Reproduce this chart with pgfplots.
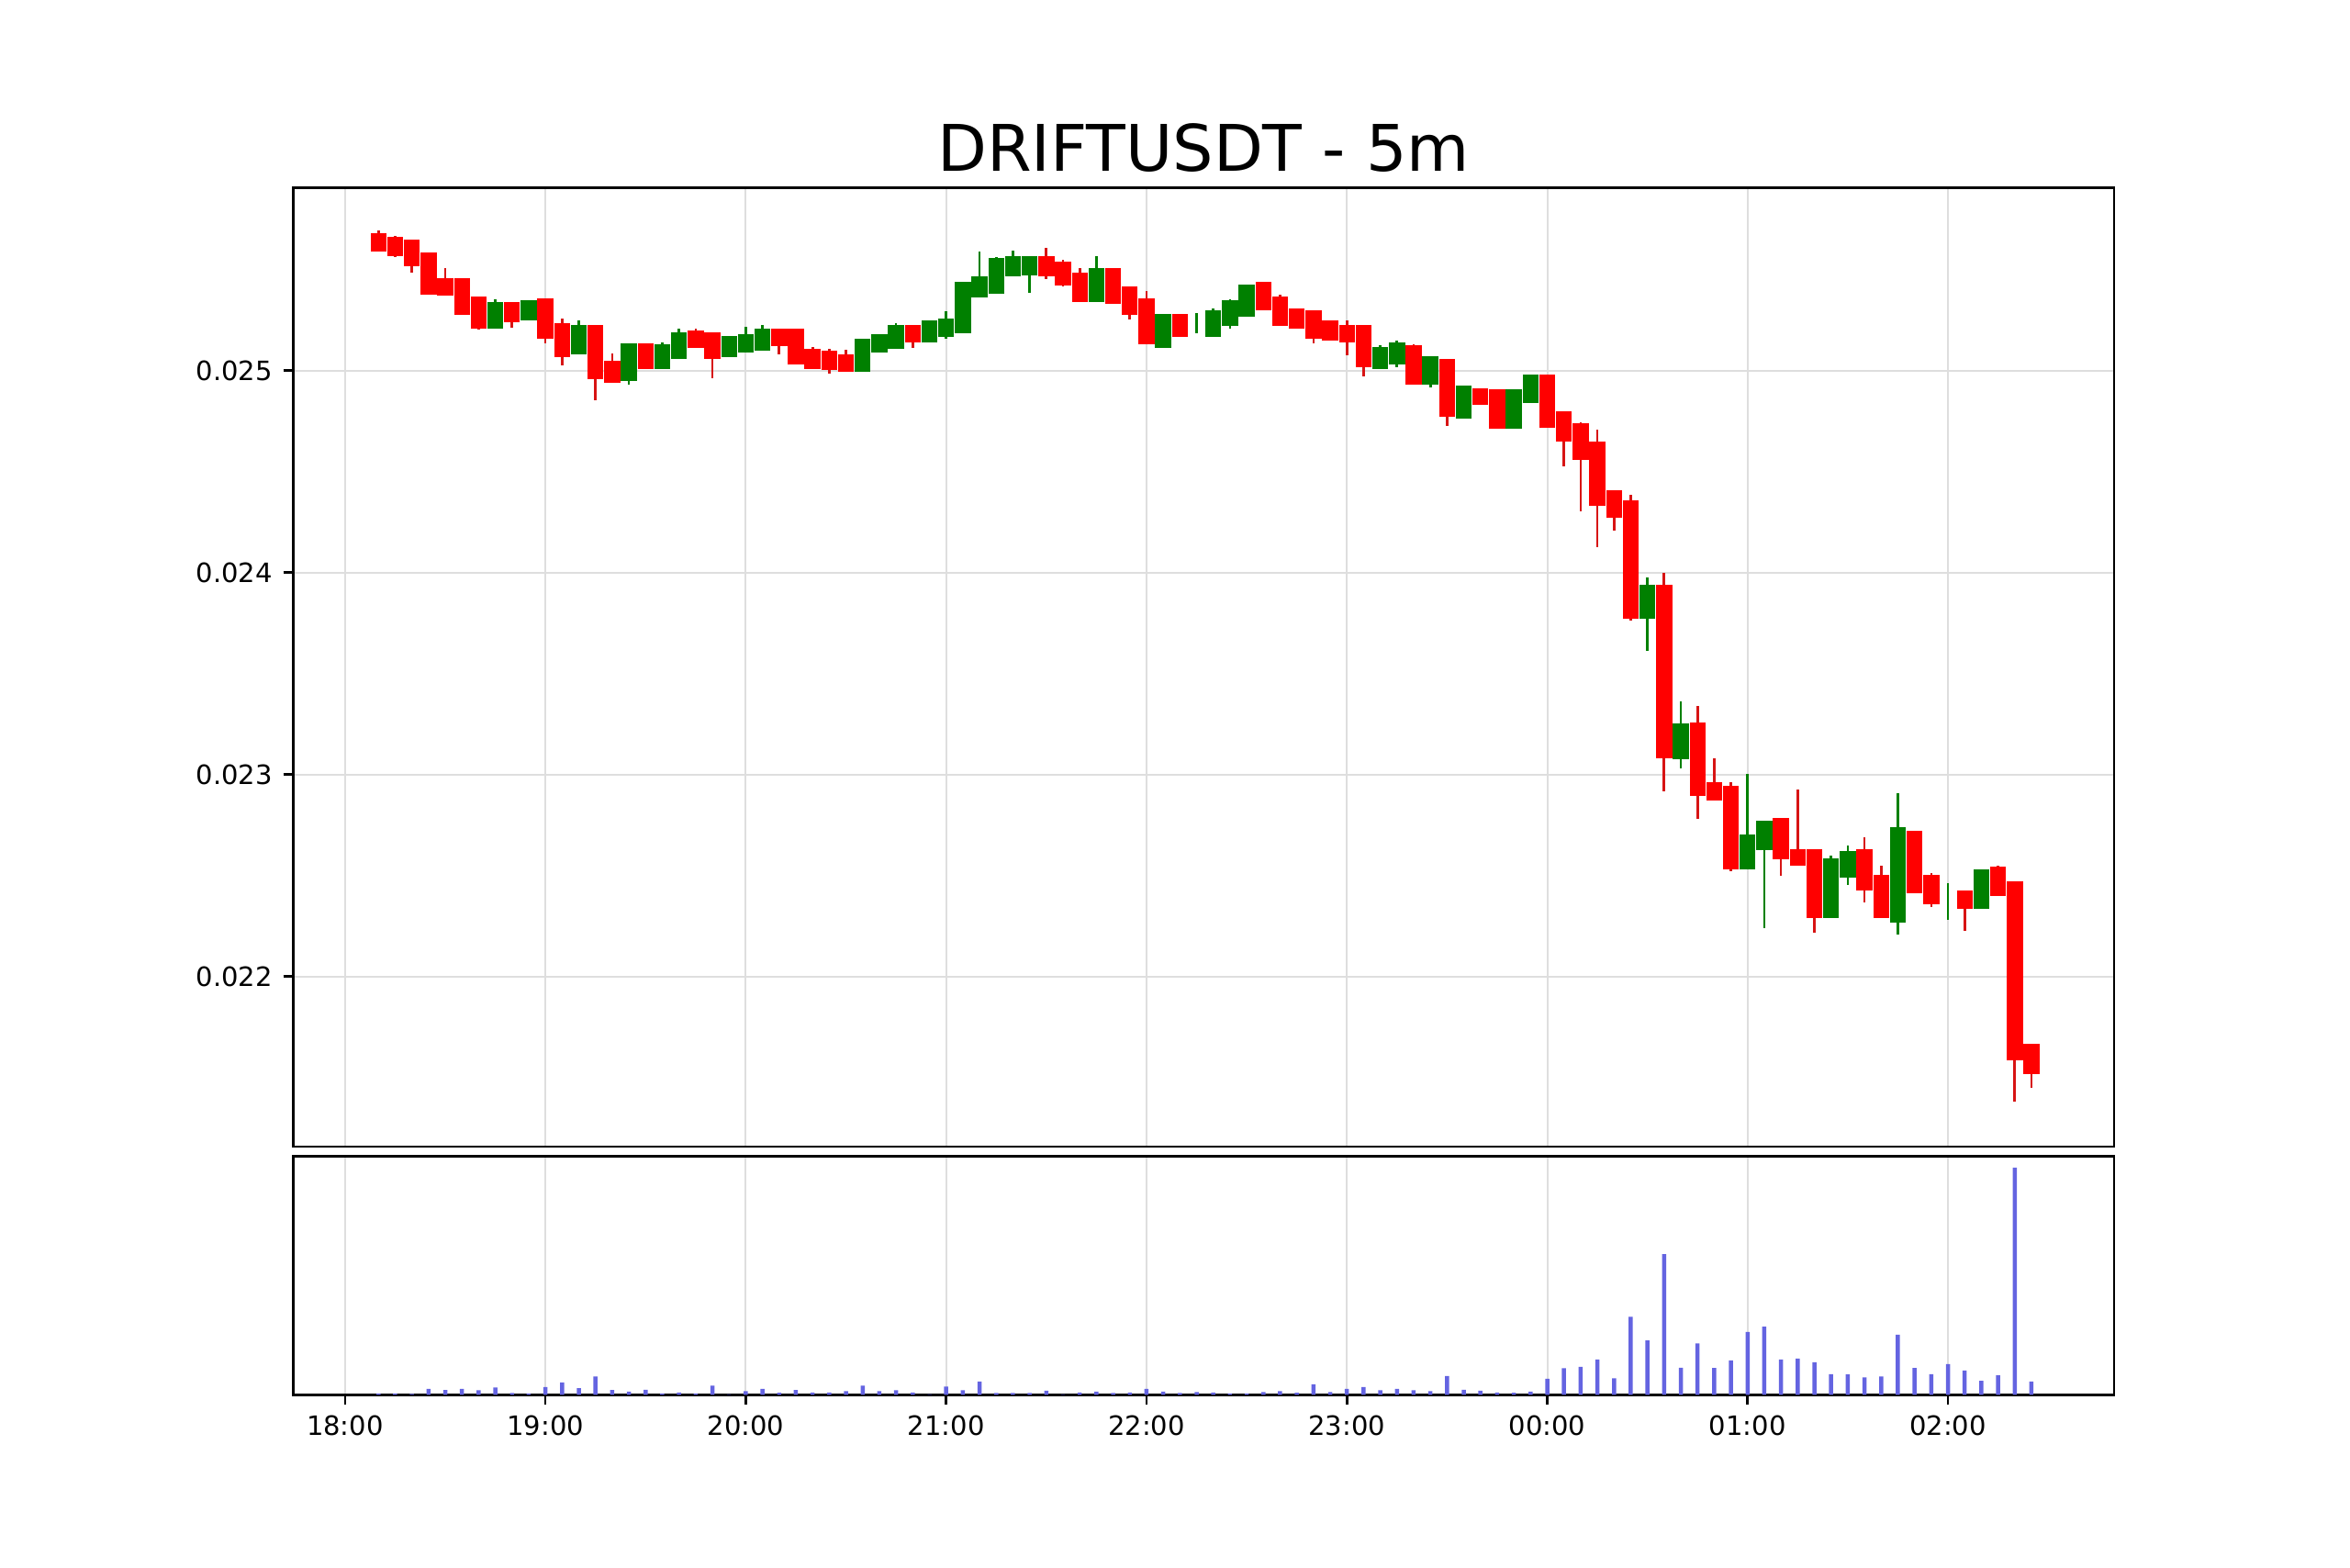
\documentclass[border=0pt]{standalone}
\usepackage{fontspec}
\setmainfont{DejaVu Sans}
\usepackage{pgfplots}
\usepackage{pgfplotstable}
\pgfplotsset{compat=1.18}
\definecolor{volblue}{RGB}{100,100,225}
\definecolor{mplgreen}{RGB}{0,128,0}
\definecolor{wickred}{RGB}{215,20,20}

% falling candles (close < open)
\pgfplotstableread{
i o h l c
2 0.025678 0.025693 0.025588 0.025590
3 0.025664 0.025666 0.025563 0.025567
4 0.025646 0.025648 0.025486 0.025516
5 0.025586 0.025586 0.025374 0.025376
6 0.025455 0.025507 0.025369 0.025369
7 0.025455 0.025455 0.025277 0.025277
8 0.025364 0.025364 0.025204 0.025208
10 0.025339 0.025339 0.025213 0.025240
12 0.025357 0.025357 0.025134 0.025158
13 0.025236 0.025255 0.025026 0.025067
15 0.025226 0.025226 0.024854 0.024958
16 0.025049 0.025084 0.024939 0.024939
18 0.025136 0.025136 0.025005 0.025007
21 0.025198 0.025205 0.025110 0.025110
22 0.025189 0.025189 0.024963 0.025058
26 0.025207 0.025207 0.025081 0.025119
27 0.025207 0.025207 0.025031 0.025031
28 0.025108 0.025116 0.025007 0.025007
29 0.025099 0.025105 0.024983 0.025001
30 0.025080 0.025104 0.024992 0.024992
34 0.025227 0.025227 0.025113 0.025139
42 0.025566 0.025607 0.025452 0.025467
43 0.025539 0.025549 0.025417 0.025419
44 0.025484 0.025505 0.025340 0.025340
46 0.025507 0.025507 0.025331 0.025331
47 0.025417 0.025417 0.025254 0.025277
48 0.025357 0.025395 0.025130 0.025130
50 0.025280 0.025282 0.025167 0.025167
55 0.025439 0.025439 0.025298 0.025298
56 0.025367 0.025375 0.025219 0.025219
57 0.025307 0.025307 0.025208 0.025208
58 0.025298 0.025298 0.025134 0.025158
59 0.025248 0.025248 0.025147 0.025149
60 0.025227 0.025248 0.025074 0.025139
61 0.025227 0.025227 0.024972 0.025017
64 0.025127 0.025128 0.024931 0.024931
66 0.025058 0.025058 0.024725 0.024769
68 0.024912 0.024912 0.024828 0.024828
69 0.024905 0.024905 0.024711 0.024711
72 0.024980 0.024980 0.024717 0.024717
73 0.024798 0.024798 0.024526 0.024649
74 0.024737 0.024745 0.024303 0.024558
75 0.024646 0.024707 0.024126 0.024331
76 0.024407 0.024407 0.024209 0.024269
77 0.024355 0.024386 0.023760 0.023772
79 0.023941 0.023998 0.022915 0.023081
81 0.023259 0.023341 0.022781 0.022893
82 0.022960 0.023081 0.022870 0.022873
83 0.022942 0.022960 0.022522 0.022532
86 0.022784 0.022784 0.022500 0.022578
87 0.022630 0.022927 0.022547 0.022547
88 0.022630 0.022630 0.022218 0.022287
91 0.022630 0.022691 0.022367 0.022424
92 0.022504 0.022550 0.022287 0.022287
94 0.022719 0.022719 0.022413 0.022413
95 0.022504 0.022510 0.022342 0.022355
97 0.022426 0.022426 0.022227 0.022333
99 0.022543 0.022550 0.022398 0.022398
100 0.022472 0.022472 0.021381 0.021585
101 0.021665 0.021665 0.021448 0.021515
}\downdata

% rising candles (close >= open)
\pgfplotstableread{
i o h l c
9 0.025208 0.025351 0.025208 0.025339
11 0.025249 0.025348 0.025246 0.025348
14 0.025078 0.025248 0.025078 0.025226
17 0.024948 0.025136 0.024928 0.025136
19 0.025007 0.025139 0.025007 0.025128
20 0.025057 0.025207 0.025055 0.025189
23 0.025067 0.025172 0.025067 0.025170
24 0.025089 0.025216 0.025089 0.025178
25 0.025099 0.025225 0.025099 0.025207
31 0.024992 0.025157 0.024992 0.025157
32 0.025090 0.025178 0.025090 0.025178
33 0.025108 0.025233 0.025108 0.025227
35 0.025139 0.025246 0.025139 0.025246
36 0.025167 0.025295 0.025155 0.025255
37 0.025186 0.025437 0.025186 0.025437
38 0.025360 0.025589 0.025360 0.025464
39 0.025378 0.025564 0.025378 0.025557
40 0.025467 0.025595 0.025467 0.025566
41 0.025473 0.025566 0.025384 0.025566
45 0.025340 0.025564 0.025340 0.025507
49 0.025110 0.025280 0.025110 0.025280
51 0.025230 0.025284 0.025183 0.025230
52 0.025167 0.025305 0.025167 0.025296
53 0.025219 0.025352 0.025205 0.025346
54 0.025267 0.025426 0.025267 0.025426
62 0.025008 0.025124 0.025008 0.025116
63 0.025031 0.025148 0.025016 0.025137
65 0.024931 0.025069 0.024918 0.025069
67 0.024761 0.024927 0.024761 0.024927
70 0.024711 0.024905 0.024711 0.024905
71 0.024841 0.024980 0.024841 0.024980
78 0.023772 0.023977 0.023613 0.023941
80 0.023073 0.023360 0.023029 0.023251
84 0.022532 0.023001 0.022532 0.022702
85 0.022624 0.022773 0.022240 0.022773
89 0.022287 0.022598 0.022287 0.022584
90 0.022489 0.022649 0.022454 0.022619
93 0.022265 0.022908 0.022209 0.022739
96 0.022370 0.022463 0.022281 0.022370
98 0.022333 0.022528 0.022333 0.022528
}\updata

% volume (arbitrary units)
\pgfplotstableread{
i v
2 5
3 5
4 3
5 20
6 16
7 20
8 15
9 24
10 6
11 5
12 26
13 41
14 22
15 60
16 16
17 11
18 17
19 5
20 8
21 5
22 30
23 2
24 12
25 20
26 7
27 16
28 8
29 8
30 12
31 30
32 12
33 15
34 8
35 2
36 27
37 15
38 44
39 6
40 6
41 6
42 14
43 2
44 8
45 11
46 6
47 8
48 20
49 11
50 6
51 9
52 8
53 5
54 5
55 9
56 12
57 7
58 35
59 9
60 20
61 26
62 15
63 20
64 15
65 12
66 62
67 17
68 14
69 8
70 7
71 11
72 53
73 87
74 92
75 116
76 54
77 255
78 178
79 460
80 89
81 168
82 88
83 113
84 206
85 223
86 116
87 119
88 107
89 68
90 67
91 57
92 60
93 197
94 88
95 68
96 101
97 80
98 46
99 64
100 743
101 44
}\voldata

\pgfplotsset{
  common/.style={
    scale only axis,
    width=595.05bp,
    xmin=-3.1, xmax=105.95,
    xtick={0,12,...,96},
    axis line style={line width=0.8bp},
    tick align=outside,
    major tick length=3.3bp,
    tick style={black, line width=0.8bp},
    major grid style={black!13, line width=0.6bp},
    tick label style={font=\fontsize{8.7bp}{10bp}\selectfont},
    /pgf/number format/assume math mode=true,
  },
  nomark/.style={only marks, mark=*, mark size=0pt, mark options={draw opacity=0, fill opacity=0}},
}

\begin{document}
\begin{tikzpicture}
\useasboundingbox (0,0) rectangle (768bp,512.1bp);
\begin{axis}[common,
  at={(95.85bp,137.4bp)}, anchor=south west,
  height=313.35bp,
  ymin=0.021157, ymax=0.025905,
  scaled y ticks=false,
  xticklabels={},
  xtick style={draw=none},
  ytick pos=left,
  ytick={0.022,0.023,0.024,0.025},
  yticklabels={0.022,0.023,0.024,0.025},
  grid=major,
  title={DRIFTUSDT - 5m},
  every axis title/.style={at={(0.5,1)}, anchor=base, yshift=5.3bp, inner sep=0pt, font=\fontsize{21bp}{25bp}\selectfont},
]
\addplot[nomark, wickred, error bars/.cd, y dir=both, y explicit, error mark=none,
  error bar style={line width=0.8bp, wickred}]
  table[x=i, y expr={(\thisrow{h}+\thisrow{l})/2}, y error expr={(\thisrow{h}-\thisrow{l})/2}] {\downdata};
\addplot[nomark, mplgreen, error bars/.cd, y dir=both, y explicit, error mark=none,
  error bar style={line width=0.8bp, mplgreen}]
  table[x=i, y expr={(\thisrow{h}+\thisrow{l})/2}, y error expr={(\thisrow{h}-\thisrow{l})/2}] {\updata};
\addplot[nomark, red, error bars/.cd, y dir=both, y explicit, error mark=none,
  error bar style={line width=5.22bp, red}]
  table[x=i, y expr={(\thisrow{o}+\thisrow{c})/2}, y error expr={abs(\thisrow{o}-\thisrow{c})/2}] {\downdata};
\addplot[nomark, mplgreen, error bars/.cd, y dir=both, y explicit, error mark=none,
  error bar style={line width=5.22bp, mplgreen}]
  table[x=i, y expr={(\thisrow{o}+\thisrow{c})/2}, y error expr={abs(\thisrow{o}-\thisrow{c})/2}] {\updata};
\end{axis}

\begin{axis}[common,
  at={(95.85bp,56.25bp)}, anchor=south west,
  height=78bp,
  ymin=0, ymax=780,
  ytick=\empty,
  xtick pos=bottom,
  xmajorgrids,
  xticklabels={18:00,19:00,20:00,21:00,22:00,23:00,00:00,01:00,02:00},
]
\addplot[ybar, bar width=1.35bp, bar shift=0pt, fill=volblue, draw=none] table[x=i, y=v] {\voldata};
\end{axis}
\end{tikzpicture}
\end{document}
